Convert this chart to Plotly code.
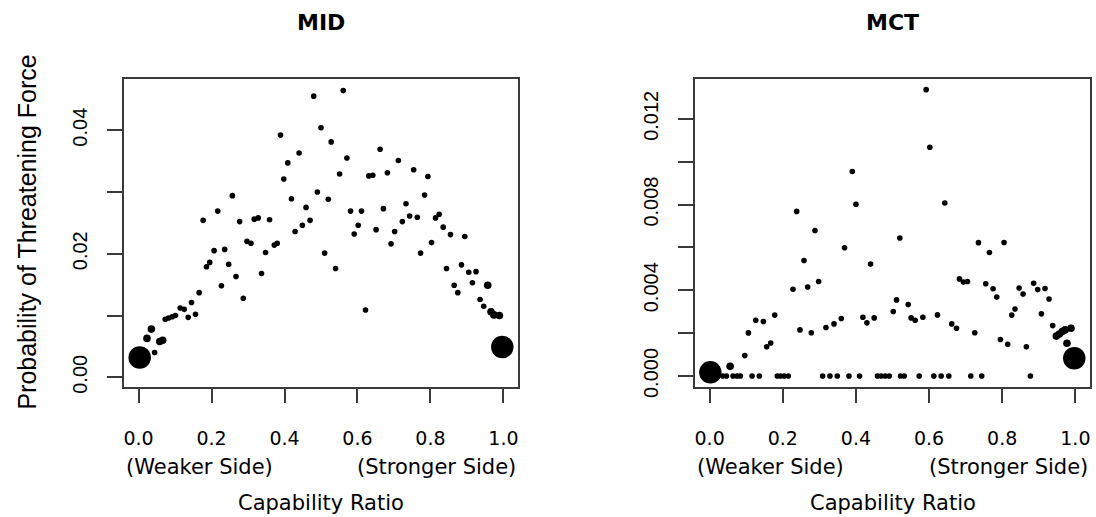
import plotly.graph_objects as go

# ---------------- data ----------------
mid_x = [0.480, 0.561, 0.500, 0.528, 0.389, 0.440, 0.409, 0.398, 0.257, 0.490,
         0.419, 0.520, 0.217, 0.459, 0.177, 0.277, 0.317, 0.328, 0.359, 0.470,
         0.449, 0.429, 0.662, 0.571, 0.712, 0.551, 0.631, 0.642, 0.682, 0.754,
         0.793, 0.784, 0.581, 0.611, 0.671, 0.733, 0.602, 0.651, 0.702, 0.723,
         0.743, 0.764, 0.814, 0.824, 0.835, 0.591, 0.855, 0.894, 0.297, 0.308,
         0.372, 0.380, 0.207, 0.236, 0.348, 0.510, 0.186, 0.195, 0.247, 0.337,
         0.267, 0.227, 0.287, 0.166, 0.145, 0.114, 0.125, 0.156, 0.136, 0.073,
         0.082, 0.092, 0.101, 0.035, 0.023, 0.058, 0.066, 0.044, 0.003, 0.540,
         0.692, 0.773, 0.803, 0.622, 0.844, 0.885, 0.905, 0.925, 0.865, 0.875,
         0.915, 0.957, 0.936, 0.946, 0.966, 0.974, 0.989, 0.997]
mid_y = [0.0455, 0.0464, 0.0404, 0.0381, 0.0392, 0.0363, 0.0347, 0.0321, 0.0294, 0.0300,
         0.0289, 0.0288, 0.0269, 0.0275, 0.0254, 0.0252, 0.0256, 0.0258, 0.0255, 0.0254,
         0.0246, 0.0236, 0.0369, 0.0355, 0.0351, 0.0329, 0.0326, 0.0327, 0.0331, 0.0336,
         0.0325, 0.0295, 0.0269, 0.0269, 0.0273, 0.0281, 0.0246, 0.0239, 0.0236, 0.0252,
         0.0261, 0.0259, 0.0258, 0.0264, 0.0243, 0.0232, 0.0231, 0.0228, 0.0220, 0.0217,
         0.0214, 0.0217, 0.0205, 0.0207, 0.0202, 0.0201, 0.0179, 0.0186, 0.0183, 0.0168,
         0.0163, 0.0148, 0.0128, 0.0137, 0.0121, 0.0112, 0.0110, 0.0102, 0.0097, 0.0094,
         0.0096, 0.0098, 0.0100, 0.0078, 0.0063, 0.0058, 0.0060, 0.0040, 0.0032, 0.0176,
         0.0216, 0.0201, 0.0218, 0.0109, 0.0176, 0.0182, 0.0170, 0.0171, 0.0149, 0.0137,
         0.0153, 0.0149, 0.0126, 0.0115, 0.0106, 0.0101, 0.0100, 0.0049]
# relative number of observations behind each point (1 = few, 3 = many)
mid_w = [1] * 73 + [2, 2, 2, 2, 1, 3] + [1] * 12 + [2, 1, 1, 2, 2, 2, 3]

mct_x = [0.390, 0.400, 0.238, 0.288, 0.592, 0.602, 0.643, 0.520, 0.369, 0.258,
         0.440, 0.268, 0.298, 0.228, 0.178, 0.126, 0.147, 0.106, 0.156, 0.167,
         0.247, 0.278, 0.318, 0.340, 0.360, 0.419, 0.430, 0.450, 0.502, 0.511,
         0.096, 0.056, 0.002, 0.735, 0.805, 0.765, 0.683, 0.694, 0.705, 0.755,
         0.775, 0.785, 0.543, 0.551, 0.562, 0.583, 0.623, 0.662, 0.675, 0.725,
         0.795, 0.815, 0.866, 0.846, 0.857, 0.886, 0.897, 0.917, 0.928, 0.907,
         0.835, 0.826, 0.938, 0.948, 0.956, 0.964, 0.972, 0.988, 0.977, 0.997,
         0.036, 0.046, 0.064, 0.075, 0.084, 0.116, 0.136, 0.185, 0.194, 0.204,
         0.215, 0.309, 0.329, 0.349, 0.381, 0.410, 0.459, 0.469, 0.480, 0.491,
         0.522, 0.532, 0.573, 0.613, 0.633, 0.654, 0.714, 0.744, 0.877]
mct_y = [0.00954, 0.00801, 0.00768, 0.00679, 0.01336, 0.01067, 0.00807, 0.00644, 0.00598, 0.00539,
         0.00522, 0.00415, 0.00441, 0.00405, 0.00284, 0.00260, 0.00254, 0.00201, 0.00136, 0.00154,
         0.00215, 0.00202, 0.00226, 0.00243, 0.00268, 0.00274, 0.00248, 0.00271, 0.00301, 0.00355,
         0.00095, 0.00045, 0.00017, 0.00622, 0.00623, 0.00576, 0.00453, 0.00438, 0.00441, 0.00430,
         0.00407, 0.00368, 0.00333, 0.00271, 0.00260, 0.00274, 0.00285, 0.00243, 0.00223, 0.00202,
         0.00170, 0.00148, 0.00136, 0.00410, 0.00382, 0.00433, 0.00403, 0.00408, 0.00359, 0.00290,
         0.00312, 0.00284, 0.00235, 0.00186, 0.00196, 0.00207, 0.00215, 0.00223, 0.00153, 0.00083,
         0.0, 0.0, 0.0, 0.0, 0.0, 0.0, 0.0, 0.0, 0.0, 0.0,
         0.0, 0.0, 0.0, 0.0, 0.0, 0.0, 0.0, 0.0, 0.0, 0.0,
         0.0, 0.0, 0.0, 0.0, 0.0, 0.0, 0.0, 0.0, 0.0]
mct_w = [1] * 31 + [2, 3] + [1] * 30 + [2, 2, 2, 2, 2, 2, 3] + [1] * 29

x_ticks = [0.0, 0.2, 0.4, 0.6, 0.8, 1.0]
x_tick_labels = ["0.0", "0.2", "0.4", "0.6", "0.8", "1.0"]
mid_y_ticks = [0.0, 0.01, 0.02, 0.03, 0.04]
mid_y_labels = ["0.00", "", "0.02", "", "0.04"]
mct_y_ticks = [0.0, 0.002, 0.004, 0.006, 0.008, 0.010, 0.012]
mct_y_labels = ["0.000", "", "0.004", "", "0.008", "", "0.012"]

panel_titles = ["MID", "MCT"]
x_title = "Capability Ratio"
y_title = "Probability of Threatening Force"
side_left = "(Weaker Side)"
side_right = "(Stronger Side)"

# ---------------- figure ----------------
W, H = 1096, 517
size_of = {1: 5.6, 2: 7.6, 3: 22.5}

fig = go.Figure()
fig.add_trace(go.Scatter(x=mid_x, y=mid_y, mode="markers", xaxis="x", yaxis="y",
                         marker=dict(color="black", opacity=1, size=[size_of[w] for w in mid_w],
                                     line=dict(width=0)),
                         hoverinfo="skip", showlegend=False))
fig.add_trace(go.Scatter(x=mct_x, y=mct_y, mode="markers", xaxis="x2", yaxis="y2",
                         marker=dict(color="black", opacity=1, size=[size_of[w] for w in mct_w],
                                     line=dict(width=0)),
                         hoverinfo="skip", showlegend=False))

line_col = "#3a3a3a"
common = dict(showline=True, mirror=True, linecolor=line_col, linewidth=1.6,
              ticks="outside", tickcolor=line_col, tickwidth=1.6, automargin=False,
              showgrid=False, zeroline=False, fixedrange=True)

left_dom = [124 / W, 518 / W]
right_dom = [695 / W, 1090 / W]
y_dom = [(H - 386.7) / H, (H - 78.5) / H]

xfont = dict(family="DejaVu Sans", size=19, color="black")
yfont = dict(family="Liberation Sans", size=20, color="black")

fig.update_layout(
    width=W, height=H, margin=dict(l=0, r=0, t=0, b=0, pad=0, autoexpand=False),
    plot_bgcolor="white", paper_bgcolor="white",
    xaxis=dict(domain=left_dom, range=[-0.04, 1.04], anchor="y",
               tickvals=x_ticks, ticktext=x_tick_labels, ticklen=14,
               tickfont=xfont, ticklabelstandoff=20, **common),
    yaxis=dict(domain=y_dom, range=[-0.00152, 0.04836], anchor="x",
               tickvals=mid_y_ticks, ticktext=mid_y_labels, ticklen=15, tickangle=-90,
               tickfont=yfont, ticklabelstandoff=12, **common),
    xaxis2=dict(domain=right_dom, range=[-0.04, 1.04], anchor="y2",
                tickvals=x_ticks, ticktext=x_tick_labels, ticklen=14,
                tickfont=xfont, ticklabelstandoff=20, **common),
    yaxis2=dict(domain=y_dom, range=[-0.0005, 0.01388], anchor="x2",
                tickvals=mct_y_ticks, ticktext=mct_y_labels, ticklen=15, tickangle=-90,
                tickfont=yfont, ticklabelstandoff=12, **common),
)

annos = []
for i, (dom, xr) in enumerate([(left_dom, "x"), (right_dom, "x2")]):
    cx = (dom[0] + dom[1]) / 2
    annos.append(dict(text=panel_titles[i], x=cx, y=(H - 23) / H, xref="paper", yref="paper",
                      xanchor="center", yanchor="middle", showarrow=False,
                      font=dict(family="DejaVu Sans", size=22, color="black", weight="bold")))
    annos.append(dict(text=side_left, x=0, y=(H - 467) / H, xref=f"{xr} domain", yref="paper",
                      xanchor="left", yanchor="middle", showarrow=False,
                      font=dict(family="DejaVu Sans", size=21, color="black")))
    annos.append(dict(text=side_right, x=1, y=(H - 467) / H, xref=f"{xr} domain", yref="paper",
                      xanchor="right", yanchor="middle", showarrow=False,
                      font=dict(family="DejaVu Sans", size=21, color="black")))
    annos.append(dict(text=x_title, x=cx, y=(H - 503) / H, xref="paper", yref="paper",
                      xanchor="center", yanchor="middle", showarrow=False,
                      font=dict(family="DejaVu Sans", size=21, color="black")))
annos.append(dict(text=y_title, x=27 / W, y=(y_dom[0] + y_dom[1]) / 2, xref="paper", yref="paper",
                  xanchor="center", yanchor="middle", textangle=-90, showarrow=False,
                  font=dict(family="Liberation Sans", size=25, color="black")))
fig.update_layout(annotations=annos)

# remove the browser's default 8px page margin so the figure sits at (0, 0)
fig.write_html("out.html", config={"displayModeBar": False},
               post_script="document.body.style.margin='0';document.body.style.overflow='hidden';")
